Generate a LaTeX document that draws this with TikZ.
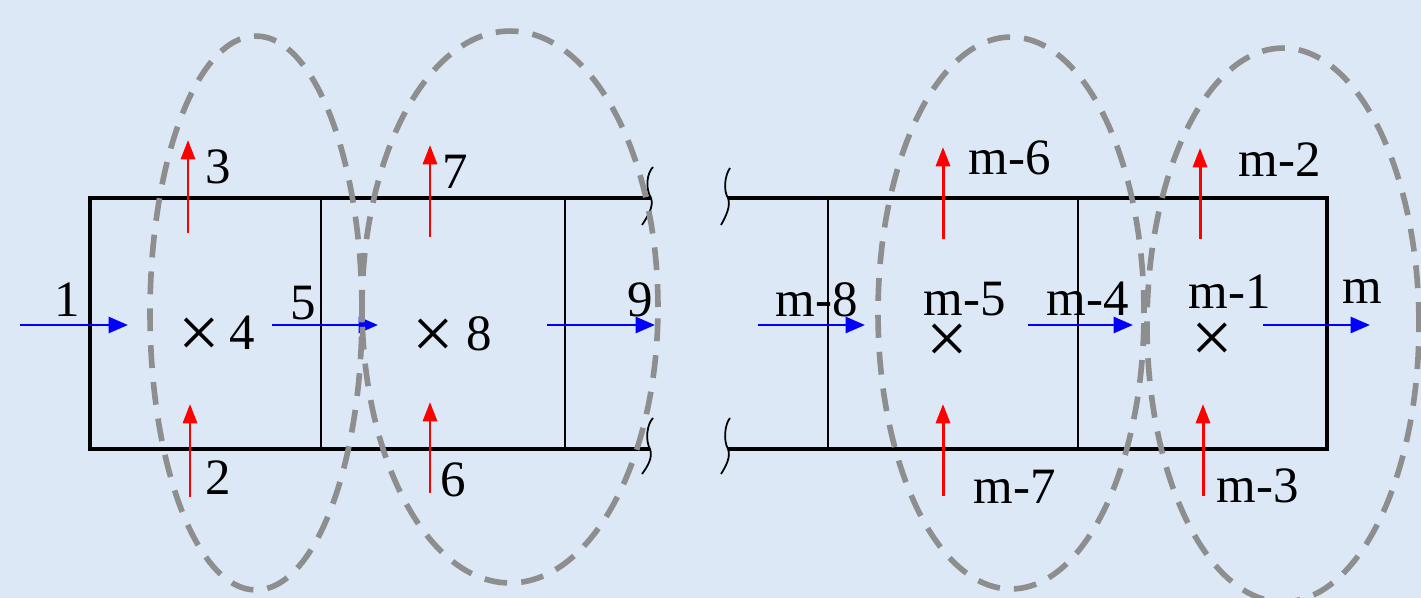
\documentclass[tikz,border=0pt]{standalone}
\usepackage{fontspec}
\setmainfont{Liberation Serif}
\usetikzlibrary{arrows.meta}
\definecolor{skyback}{HTML}{DCE8F6}
\definecolor{ringgray}{HTML}{8E8E8E}
\definecolor{flowblue}{HTML}{0000FF}
\definecolor{flowred}{HTML}{FF0000}
\newcommand{\cellmark}{{\fontsize{42}{42}\selectfont ×}}

\begin{document}
\begin{tikzpicture}[x=0.02cm,y=-0.02cm,
  font=\fontsize{29}{34}\selectfont,
  wall/.style={draw=black,line width=2.2pt},
  divider/.style={draw=black,line width=1pt},
  brk/.style={draw=black,line width=1pt},
  ring/.style={draw=ringgray,line width=3.2pt,dash pattern=on 13pt off 8pt},
  axial/.style={-{Triangle[length=11pt,width=9pt]},draw=flowblue,line width=1.7pt},
  lateral/.style={-{Triangle[length=11pt,width=8pt]},draw=flowred,line width=1.7pt},
  lbl/.style={inner sep=0pt,anchor=center},
  crossmark/.style={inner sep=0pt,anchor=center},
]
\fill[skyback] (0,0) rectangle (1421,598);
\useasboundingbox (0,0) rectangle (1421,598);

% Left part of the channel.
\draw[wall] (651,198) -- (90,198) -- (90,449) -- (650,449);
\draw[divider] (321,198) -- (321,449);
\draw[divider] (565,198) -- (565,449);

% Right part of the channel.
\draw[wall] (728,198) -- (1327,198) -- (1327,449) -- (728,449);
\draw[divider] (828,198) -- (828,449);
\draw[divider] (1078,198) -- (1078,449);

% Break marks.
\draw[brk] (653,167) .. controls (647,173) and (645,188) .. (651,198)
                     .. controls (654,206) and (648,216) .. (642,225);
\draw[brk] (730,168) .. controls (725,175) and (723,190) .. (728,198)
                     .. controls (731,206) and (726,216) .. (721,225);
\draw[brk] (653,418) .. controls (647,424) and (645,440) .. (650,449)
                     .. controls (653,457) and (648,466) .. (642,474);
\draw[brk] (730,418) .. controls (725,424) and (723,440) .. (728,449)
                     .. controls (731,457) and (726,466) .. (721,474);

% Axial flows.
\foreach \n/\xa/\xb in {a/20/128, b/272/378, c/547/655, d/758/865, e/1028/1133, f/1263/1370} {
  \coordinate (\n0) at (\xa,325);
  \coordinate (\n1) at (\xb,325);
  \draw[axial] (\n0) -- (\n1);
}

% Lateral flows.
\foreach \n/\x/\ya/\yb in {t1/188/233/140, b1/190/497/404, t2/430/237/145, b2/430/493/402,
                           t3/943/239/147, b3/943/496/404, t4/1200/239/148, b4/1203/496/404} {
  \coordinate (\n0) at (\x,\ya);
  \coordinate (\n1) at (\x,\yb);
  \draw[lateral] (\n0) -- (\n1);
}

% Control volumes.
\draw[ring] (256,313) ellipse [x radius=2.12cm, y radius=5.54cm];
\draw[ring] (510,307) ellipse [x radius=2.96cm, y radius=5.52cm];
\draw[ring] (1011,313) ellipse [x radius=2.66cm, y radius=5.52cm];
\draw[ring] (1283,325) ellipse [x radius=2.72cm, y radius=5.54cm];

% Labels.
\node[lbl] (l1) at (67,300) {1};
\node[lbl] (l3) at (218,167) {3};
\node[lbl] (l2) at (218,478) {2};
\node[crossmark] (x4) at (199,338) {\cellmark};
\node[lbl] (l4) at (242,333) {4};
\node[lbl] (l5) at (303,303) {5};
\node[lbl] (l7) at (455,172) {7};
\node[lbl] (l6) at (453,480) {6};
\node[crossmark] (x8) at (433,339) {\cellmark};
\node[lbl] (l8) at (479,334) {8};
\node[lbl] (l9) at (640,300) {9};
\node[lbl] (lm8) at (817,300) {m-8};
\node[lbl] (lm5) at (965,299) {m-5};
\node[crossmark] (xm5) at (947,344) {\cellmark};
\node[lbl] (lm4) at (1088,299) {m-4};
\node[lbl] (lm6) at (1010,158) {m-6};
\node[lbl] (lm7) at (1015,487) {m-7};
\node[lbl] (lm1) at (1230,292) {m-1};
\node[crossmark] (xm1) at (1212,343) {\cellmark};
\node[lbl] (lm) at (1362,291) {m};
\node[lbl] (lm2) at (1280,160) {m-2};
\node[lbl] (lm3) at (1258,486) {m-3};
\end{tikzpicture}
\end{document}
